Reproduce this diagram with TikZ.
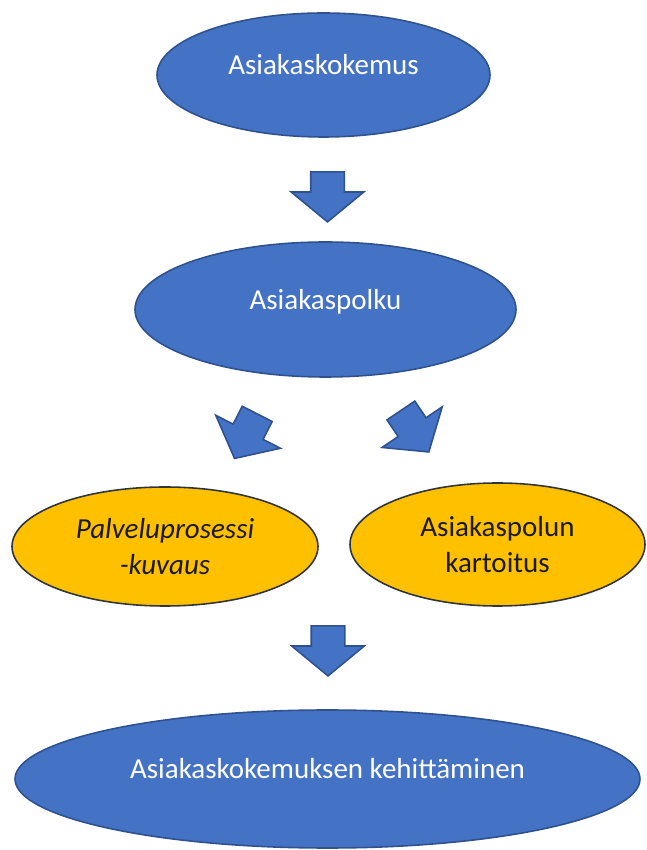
\documentclass[tikz,border=0pt]{standalone}
\usepackage{fontspec}
\setmainfont{Carlito}
\usetikzlibrary{shapes.geometric,shapes.arrows}

\definecolor{fillblue}{HTML}{4472C4}
\definecolor{outlineblue}{HTML}{2F528F}
\definecolor{fillyellow}{HTML}{FFC000}
\definecolor{outlinedark}{HTML}{30343C}
\definecolor{textdark}{HTML}{1A1A1A}

\begin{document}
\begin{tikzpicture}[
    bluebox/.style={ellipse, draw=outlineblue, line width=0.9pt, fill=fillblue,
        text=white, inner sep=0pt, text height=0.45cm, text depth=0.45cm,
        font=\fontsize{16.5}{20.5}\selectfont},
    yellowbox/.style={ellipse, draw=outlinedark, line width=0.9pt, fill=fillyellow,
        text=textdark, align=center, inner sep=0pt,
        font=\fontsize{16.5}{20.5}\selectfont},
    blockarrow/.style={single arrow, draw=outlineblue, line width=0.9pt, fill=fillblue,
        inner xsep=0pt, inner ysep=0.32cm, minimum height=1.0cm,
        single arrow head extend=0.39cm, single arrow tip angle=101}
]

    \useasboundingbox (0,0) rectangle (12.92,17);

    % Top level
    \node[bluebox, minimum width=6.66cm, minimum height=2.48cm] (kokemus) at (6.47,15.50) {Asiakaskokemus};
    \node[blockarrow, rotate=-90] (nuoli1) at (6.55,13.20) {};

    % Customer path
    \node[bluebox, minimum width=7.62cm, minimum height=2.70cm] (polku) at (6.51,10.81) {Asiakaspolku};
    \node[blockarrow, rotate=-117] (nuoli2) at (4.98,8.40) {};
    \node[blockarrow, rotate=-56] (nuoli3) at (8.22,8.49) {};

    % Two ways of describing it
    \node[yellowbox, font=\fontsize{16.5}{20.5}\selectfont\itshape, minimum width=6.12cm, minimum height=2.38cm] (prosessi) at (3.30,6.07) {Palveluprosessi\\-kuvaus};
    \node[yellowbox, minimum width=5.90cm, minimum height=2.46cm] (kartoitus) at (9.95,6.11) {Asiakaspolun\\kartoitus};
    \node[blockarrow, rotate=-90] (nuoli4) at (6.56,4.12) {};

    % Result
    \node[bluebox, minimum width=12.50cm, minimum height=2.76cm] (kehitys) at (6.55,1.42) {Asiakaskokemuksen kehittäminen};

\end{tikzpicture}
\end{document}
